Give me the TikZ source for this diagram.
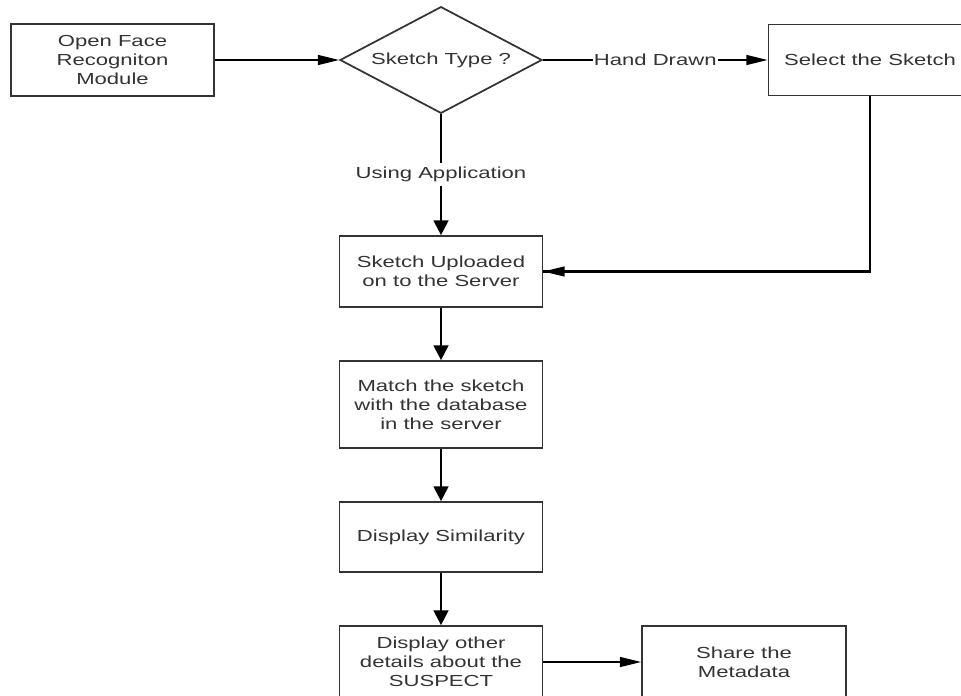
\documentclass[tikz,border=0pt]{standalone}
\usepackage{fontspec}
\setmainfont[FakeStretch=1.38]{Liberation Sans}
\usetikzlibrary{shapes.geometric,arrows.meta}
\definecolor{ink}{HTML}{333333}
\tikzset{
  box/.style={draw=ink, line width=1.3pt, fill=white, rectangle, text=ink, align=center,
    minimum width=152.25pt, inner sep=2pt, font=\fontsize{12}{14.25}\selectfont},
  txt/.style={text=ink, align=center, inner sep=1pt, font=\fontsize{12}{14.25}\selectfont},
  harrow/.style={draw=black, line width=1.1pt, -{Triangle[length=16pt,width=7.5pt]}},
  varrow/.style={draw=black, line width=1.7pt, -{Triangle[length=11pt,width=11pt]}},
}
\begin{document}
\begin{tikzpicture}[x=0.75pt,y=-0.75pt]
\useasboundingbox (0,0) rectangle (961,696);
\clip (0,0) rectangle (961,696);
% nodes
\node[box, minimum height=54pt] (open) at (112.5,60) {Open Face\\Recogniton\\Module};
\node[diamond, draw=ink, line width=1.3pt, minimum width=151.5pt, minimum height=80pt, inner sep=0pt] (type) at (441,60) {};
\node[txt] (typet) at (type) {Sketch Type ?};
\node[box, minimum height=53.25pt] (sel) at (870,60) {Select the Sketch};
\node[box, minimum height=53.25pt] (upl) at (441,271.5) {Sketch Uploaded\\on to the Server};
\node[box, minimum height=65.25pt] (match) at (441,404.5) {Match the sketch\\with the database\\in the server};
\node[box, minimum height=52.5pt] (sim) at (441,537) {Display Similarity};
\node[box, minimum height=54pt] (det) at (441,662) {Display other\\details about the\\SUSPECT};
\node[box, minimum height=54pt, minimum width=153pt] (share) at (744,662) {Share the\\Metadata};
% connectors
\draw[harrow] (open.east) -- (type.west);
\draw[harrow] (type.east) -- node[txt, fill=white] (hd) {Hand Drawn} (sel.west);
\draw[varrow] (type.south) -- node[txt, fill=white, inner sep=3pt] (ua) {Using Application} (upl.north);
\draw[line width=1.7pt] (sel.south) |- coordinate (corner) (upl.east);
\draw[harrow] (corner) -- (upl.east);
\draw[varrow] (upl.south) -- (match.north);
\draw[varrow] (match.south) -- (sim.north);
\draw[varrow] (sim.south) -- (det.north);
\draw[harrow] (det.east) -- (share.west);
\end{tikzpicture}
\end{document}
